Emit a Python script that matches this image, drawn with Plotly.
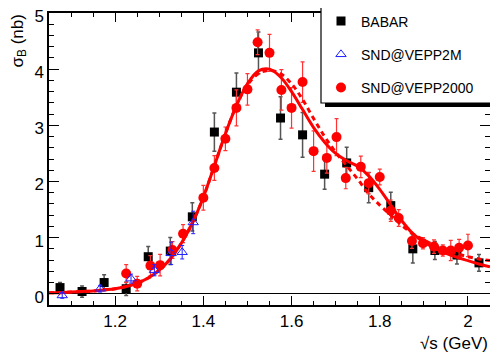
import plotly.graph_objects as go

# BABAR
babar_x = [1.075, 1.125, 1.175, 1.225, 1.275, 1.325, 1.375, 1.425, 1.475, 1.525,
           1.575, 1.625, 1.675, 1.725, 1.775, 1.825, 1.875, 1.925, 1.975, 2.025]
babar_y = [0.11, 0.04, 0.20, 0.09, 0.66, 0.76, 1.37, 2.88, 3.59, 4.29,
           3.13, 2.83, 2.13, 2.33, 1.89, 1.57, 0.80, 0.77, 0.69, 0.55]
babar_err = [0.09, 0.10, 0.14, 0.12, 0.18, 0.24, 0.25, 0.34, 0.34, 0.37,
             0.38, 0.40, 0.27, 0.28, 0.27, 0.24, 0.25, 0.16, 0.16, 0.15]

# SND@VEPP2M
vepp2m_x = [1.08, 1.166, 1.236, 1.289, 1.327, 1.352, 1.377]
vepp2m_y = [-0.03, 0.09, 0.27, 0.42, 0.72, 0.74, 1.27]
vepp2m_err = [0.05, 0.06, 0.08, 0.10, 0.20, 0.12, 0.20]

# SND@VEPP2000
vepp2000_x = [1.225, 1.25, 1.28, 1.302, 1.33, 1.354, 1.40, 1.425, 1.45, 1.475,
              1.50, 1.523, 1.55, 1.577, 1.60, 1.625, 1.65, 1.68, 1.702, 1.723,
              1.757, 1.775, 1.80, 1.825, 1.843, 1.873, 1.898, 1.923, 1.943, 1.961,
              1.98, 2.0]
vepp2000_y = [0.36, 0.18, 0.50, 0.51, 0.78, 1.07, 1.71, 2.24, 2.76, 3.31,
              3.64, 4.48, 4.29, 3.63, 3.31, 3.77, 2.54, 2.42, 2.79, 2.06,
              2.26, 1.97, 2.08, 1.48, 1.35, 0.94, 0.90, 0.84, 0.77, 0.77,
              0.82, 0.86]
vepp2000_err = [0.16, 0.13, 0.18, 0.19, 0.15, 0.16, 0.22, 0.22, 0.21, 0.32,
                0.28, 0.22, 0.33, 0.36, 0.36, 0.36, 0.36, 0.27, 0.33, 0.19,
                0.19, 0.19, 0.14, 0.19, 0.15, 0.13, 0.10, 0.12, 0.10, 0.18,
                0.15, 0.20]

# fit curves
fit_x = [1.05, 1.075, 1.10, 1.125, 1.15, 1.175, 1.20, 1.225, 1.25, 1.275,
         1.30, 1.325, 1.35, 1.375, 1.40, 1.425, 1.45, 1.475, 1.50, 1.525,
         1.55, 1.575, 1.60, 1.625, 1.65, 1.675, 1.70, 1.725, 1.75, 1.775,
         1.80, 1.825, 1.85, 1.875, 1.90, 1.925, 1.95, 1.975, 2.00, 2.025, 2.05]
fit_solid = [0.02, 0.02, 0.03, 0.04, 0.05, 0.07, 0.09, 0.13, 0.19, 0.28,
             0.42, 0.62, 0.90, 1.26, 1.72, 2.28, 2.85, 3.35, 3.74, 3.97,
             4.00, 3.86, 3.60, 3.28, 2.96, 2.70, 2.50, 2.37, 2.27, 2.10,
             1.86, 1.58, 1.30, 1.07, 0.92, 0.81, 0.72, 0.65, 0.59, 0.53, 0.48]
fit_dashed = [0.02, 0.02, 0.03, 0.04, 0.05, 0.07, 0.09, 0.13, 0.19, 0.28,
              0.42, 0.62, 0.90, 1.26, 1.72, 2.28, 2.85, 3.35, 3.72, 3.92,
              3.98, 3.92, 3.74, 3.46, 3.12, 2.80, 2.52, 2.28, 2.04, 1.78,
              1.58, 1.40, 1.22, 1.07, 0.96, 0.86, 0.78, 0.71, 0.66, 0.62, 0.59]

font = "Liberation Sans, Arial"

fig = go.Figure()

fig.add_trace(go.Scatter(
    x=babar_x, y=babar_y, mode="markers", name="BABAR", legendgroup="a", legendrank=1,
    marker=dict(symbol="square", size=9, color="black"),
    error_y=dict(type="data", array=babar_err, color="#555555", thickness=1.5, width=2)))

fig.add_trace(go.Scatter(
    x=vepp2000_x, y=vepp2000_y, mode="markers", name="SND@VEPP2000", legendgroup="c", legendrank=3,
    marker=dict(symbol="circle", size=10, color="#ff0000"),
    error_y=dict(type="data", array=vepp2000_err, color="#ff3333", thickness=1.2, width=2)))

fig.add_trace(go.Scatter(
    x=fit_x, y=fit_dashed, mode="lines", showlegend=False,
    line=dict(color="#ff0000", width=3, dash="5px,4px", shape="spline")))
fig.add_trace(go.Scatter(
    x=fit_x, y=fit_solid, mode="lines", showlegend=False,
    line=dict(color="#ff0000", width=3, shape="spline")))

fig.add_trace(go.Scatter(
    x=vepp2m_x, y=vepp2m_y, mode="markers", name="SND@VEPP2M", legendgroup="b", legendrank=2,
    marker=dict(symbol="triangle-up-open", size=9, color="#2020ff", line=dict(width=1)),
    error_y=dict(type="data", array=vepp2m_err, color="#2020ff", thickness=1, width=2)))

axis_common = dict(
    showline=True, linecolor="black", linewidth=1.5, mirror="ticks", automargin=False,
    ticks="inside", tickcolor="black", tickwidth=1, showgrid=False, ticklabeloverflow="allow",
    tickfont=dict(family=font, size=17, color="black"),
)

fig.update_xaxes(
    range=[1.05, 2.05], tickvals=[1.2, 1.4, 1.6, 1.8, 2.0], ticktext=["1.2", "1.4", "1.6", "1.8", "2"],
    ticklen=9, minor=dict(dtick=0.05, tick0=1.0, ticks="inside", ticklen=4, tickcolor="black"),
    zeroline=False, **axis_common)
fig.update_yaxes(
    range=[-0.2, 5], tickvals=[0, 1, 2, 3, 4, 5], ticklen=10, ticklabelshift=3,
    minor=dict(dtick=0.2, tick0=0, ticks="inside", ticklen=5, tickcolor="black"),
    zeroline=True, zerolinecolor="black", zerolinewidth=1, **axis_common)


# the page puts the figure 8px in from the window's corner;
# these turn window pixels into paper fractions (plot area 49..490 x 13..305)
def px_x(p):
    return (p - 49) / 441


def px_y(p):
    return (305 - p) / 292


# legend box with shadow
fig.add_shape(type="rect", xref="paper", yref="paper",
              x0=px_x(325), x1=px_x(502), y0=px_y(107), y1=px_y(3),
              fillcolor="black", line=dict(width=0), layer="above")
fig.add_shape(type="rect", xref="paper", yref="paper",
              x0=px_x(321), x1=px_x(497), y0=px_y(103), y1=px_y(0),
              fillcolor="white", line=dict(color="black", width=1.2), layer="above")

fig.add_annotation(text="σ<sub>B</sub> (nb)", xref="paper", yref="paper", x=px_x(18), y=px_y(13),
                   xanchor="center", yanchor="top", textangle=-90, showarrow=False,
                   font=dict(family=font, size=17, color="black"))
fig.add_annotation(text="√s (GeV)", xref="paper", yref="paper", x=px_x(490), y=px_y(343),
                   xanchor="right", yanchor="middle", showarrow=False,
                   font=dict(family=font, size=17, color="black"))

fig.update_layout(
    width=490, height=352,
    margin=dict(l=41, r=8, t=5, b=55, autoexpand=False),
    paper_bgcolor="white", plot_bgcolor="white",
    showlegend=True,
    legend=dict(x=px_x(321), y=px_y(5.5), xanchor="left", yanchor="top", bgcolor="rgba(0,0,0,0)",
                borderwidth=0, tracegroupgap=12, traceorder="grouped",
                font=dict(family=font, size=14, color="black")),
)

fig.write_html("out.html")
